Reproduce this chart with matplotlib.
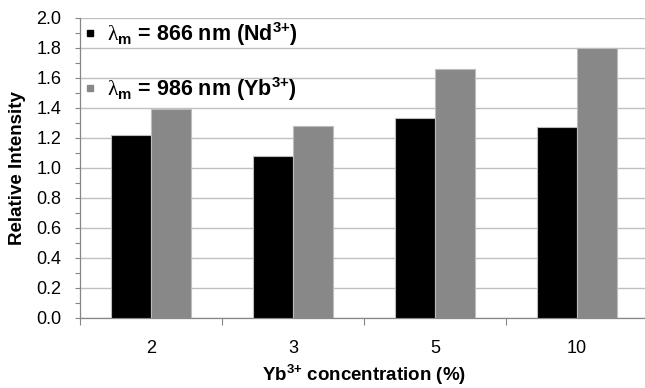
import numpy as np
import matplotlib
matplotlib.use('Agg')
import matplotlib.pyplot as plt
from matplotlib.lines import Line2D
from matplotlib.ticker import MultipleLocator, FixedLocator, NullFormatter

plt.rcParams['font.family'] = ['Liberation Sans', 'DejaVu Sans']
plt.rcParams['mathtext.fontset'] = 'custom'
plt.rcParams['mathtext.rm'] = 'Liberation Serif'
plt.rcParams['mathtext.bf'] = 'Liberation Sans:bold'
plt.rcParams['mathtext.it'] = 'Liberation Sans:italic'

concentrations = ['2', '3', '5', '10']
nd_866 = [1.22, 1.08, 1.33, 1.27]
yb_986 = [1.39, 1.28, 1.66, 1.80]

label_nd = r'$\mathrm{\lambda}_{\mathbf{m}}$ = 866 nm (Nd$^{\mathbf{3{+}}}$)'
label_yb = r'$\mathrm{\lambda}_{\mathbf{m}}$ = 986 nm (Yb$^{\mathbf{3{+}}}$)'

black = '#000000'
grey = '#888888'
edge = '#bdbdbd'
axis_grey = '#868686'

fig = plt.figure(figsize=(6.45, 3.88), dpi=100)
ax = fig.add_axes([80 / 645, 1 - 317.7 / 388, 568 / 645, 300.2 / 388])

x = np.arange(len(concentrations))
w = 0.28
ax.bar(x - w / 2, nd_866, width=w, color=black, edgecolor=edge, linewidth=0.8, zorder=3)
ax.bar(x + w / 2, yb_986, width=w, color=grey, edgecolor=edge, linewidth=0.8, zorder=3)

ax.set_xlim(-0.5, len(concentrations) - 0.5)
ax.set_ylim(0, 2.0)

# y axis: labelled ticks every 0.2, small ticks every 0.1
ax.yaxis.set_major_locator(MultipleLocator(0.2))
ax.yaxis.set_minor_locator(MultipleLocator(0.1))
ax.yaxis.set_major_formatter(matplotlib.ticker.FormatStrFormatter('%.1f'))
ax.tick_params(axis='y', which='both', direction='out', length=3.5, width=0.8,
               color=axis_grey, labelsize=13, pad=10)
ax.grid(axis='y', which='major', color='#c0c0c0', linewidth=1.0, zorder=0)

# x axis: category labels centred, tick marks between categories
ax.set_xticks(x)
ax.set_xticklabels(concentrations)
ax.xaxis.set_minor_locator(FixedLocator(np.arange(-0.5, len(concentrations), 1.0)))
ax.xaxis.set_minor_formatter(NullFormatter())
ax.tick_params(axis='x', which='major', length=0, labelsize=13, pad=16)
ax.tick_params(axis='x', which='minor', direction='out', length=5, width=0.8, color=axis_grey)

for side in ['top', 'right']:
    ax.spines[side].set_visible(False)
for side in ['left', 'bottom']:
    ax.spines[side].set_color(axis_grey)
    ax.spines[side].set_linewidth(0.9)

ax.set_ylabel('Relative Intensity', fontsize=13.5, fontweight='bold', labelpad=7)
ax.set_xlabel(r'Yb$^{\mathbf{3{+}}}$ concentration (%)', fontsize=13.5, fontweight='bold', labelpad=4)

handles = [
    Line2D([], [], linestyle='none', marker='s', markersize=4.5, color=black),
    Line2D([], [], linestyle='none', marker='s', markersize=4.5, color=grey),
]
leg = ax.legend(handles, [label_nd, label_yb], loc='upper left', bbox_to_anchor=(-0.002, 1.02),
                frameon=False, handlelength=0.25, handletextpad=0.65, labelspacing=1.25,
                prop={'size': 15.5, 'weight': 'bold'}, borderaxespad=0.0)
leg.set_zorder(5)

fig.savefig('out.png', dpi=100)
